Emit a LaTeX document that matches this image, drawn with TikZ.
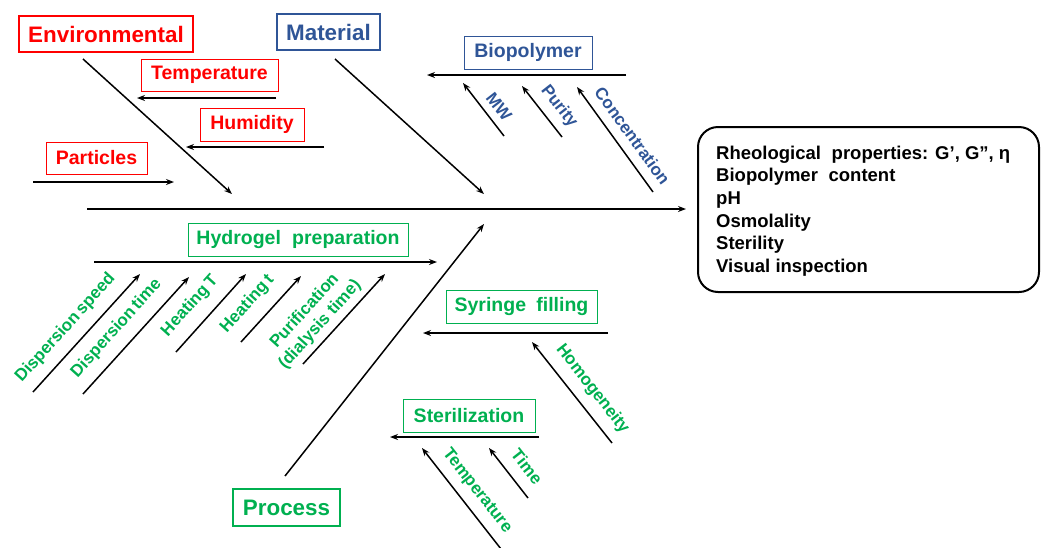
\documentclass[tikz,border=0pt]{standalone}
\usepackage{fontspec}
\setmainfont{Liberation Sans}
\usetikzlibrary{arrows.meta}
\definecolor{cred}{RGB}{255,0,0}
\definecolor{cblue}{RGB}{47,85,151}
\definecolor{cgreen}{RGB}{0,176,80}
\begin{document}
\begin{tikzpicture}[x=1pt,y=-1pt,
  arr/.style={line width=1.5pt, -{Stealth[length=8pt,width=6pt]}},
  mainbox/.style={draw, line width=2.2pt, font=\bfseries\fontsize{22.4}{25}\selectfont, inner sep=0pt},
  subbox/.style={draw, line width=0.9pt, font=\bfseries\fontsize{19.5}{22}\selectfont, inner sep=0pt, minimum height=33pt},
  lbl/.style={font=\bfseries\fontsize{18.5}{21}\selectfont, inner sep=0pt},
  rlbl/.style={font=\bfseries\fontsize{17}{20}\selectfont, inner sep=0pt},
]
\useasboundingbox (0,0) rectangle (1044,547);

% main category boxes
\node[mainbox, cred, minimum width=174pt, minimum height=36pt] (env) at (106,34) {Environmental};
\node[mainbox, cblue, minimum width=103pt, minimum height=36pt] (mat) at (328.5,32) {Material};
\node[mainbox, cgreen, minimum width=107pt, minimum height=37pt] (proc) at (286.5,507.5) {Process};

% sub boxes
\node[subbox, cred, minimum width=137pt, minimum height=32pt] (temp) at (209.5,75) {Temperature};
\node[subbox, cred, minimum width=104pt] (hum) at (252,124.5) {Humidity};
\node[subbox, cred, minimum width=101pt, minimum height=32pt] (part) at (96.5,158) {Particles};
\node[subbox, cblue, minimum width=128pt] (bio) at (528,52.5) {Biopolymer};
\node[subbox, cgreen, minimum width=220pt] (hyd) at (298,239.5) {Hydrogel\hspace{0.3em} preparation};
\node[subbox, cgreen, minimum width=151pt] (syr) at (521.5,306.5) {Syringe\hspace{0.25em} filling};
\node[subbox, cgreen, minimum width=132pt] (ster) at (469,415.5) {Sterilization};

% result box
\node[draw, line width=2pt, rounded corners=20pt, minimum width=341pt, minimum height=165pt] (res) at (868.5,209.5) {};
\node[lbl, align=left, anchor=west, font=\bfseries\fontsize{18.5}{22.6}\selectfont] (restext) at (716,211)
  {Rheological\hspace{0.3em} properties: G’, G”, η\\Biopolymer\hspace{0.3em} content\\pH\\Osmolality\\Sterility\\Visual inspection};

% coordinates
\coordinate (spA) at (87,209);   \coordinate (spB) at (686,209);
\coordinate (envA) at (83,59);   \coordinate (envB) at (232,194);
\coordinate (matA) at (335,59);  \coordinate (matB) at (484,194);
\coordinate (prA) at (285,476);  \coordinate (prB) at (484,224);
\coordinate (tA) at (276,98);    \coordinate (tB) at (137,98);
\coordinate (hA) at (324,147);   \coordinate (hB) at (186,147);
\coordinate (pA) at (33,182);    \coordinate (pB) at (174,182);
\coordinate (bA) at (626,75);    \coordinate (bB) at (427,75);
\coordinate (mwA) at (504,136);  \coordinate (mwB) at (463,83);
\coordinate (puA) at (562,137);  \coordinate (puB) at (522,86);
\coordinate (coA) at (653,192);  \coordinate (coB) at (577,87);
\coordinate (hyA) at (94,262);   \coordinate (hyB) at (437,262);
\coordinate (d1A) at (33,392);   \coordinate (d1B) at (140,274);
\coordinate (d2A) at (83,394);   \coordinate (d2B) at (189,277);
\coordinate (d3A) at (176,352);  \coordinate (d3B) at (246,274);
\coordinate (d4A) at (241,342);  \coordinate (d4B) at (301,276);
\coordinate (d5A) at (303,364);  \coordinate (d5B) at (385,274);
\coordinate (syA) at (608,333);  \coordinate (syB) at (423,333);
\coordinate (hoA) at (612,443);  \coordinate (hoB) at (532,342);
\coordinate (stA) at (539,437);  \coordinate (stB) at (390,437);
\coordinate (tiA) at (528,498);  \coordinate (tiB) at (489,448);
\coordinate (teA) at (501,549);  \coordinate (teB) at (422,448);

% arrows
\draw[arr] (spA) -- (spB);
\draw[arr] (envA) -- (envB);
\draw[arr] (matA) -- (matB);
\draw[arr] (prA) -- (prB);
\draw[arr] (tA) -- (tB);
\draw[arr] (hA) -- (hB);
\draw[arr] (pA) -- (pB);
\draw[arr] (bA) -- (bB);
\draw[arr] (mwA) -- (mwB);
\draw[arr] (puA) -- (puB);
\draw[arr] (coA) -- (coB);
\draw[arr] (hyA) -- (hyB);
\draw[arr] (d1A) -- (d1B);
\draw[arr] (d2A) -- (d2B);
\draw[arr] (d3A) -- (d3B);
\draw[arr] (d4A) -- (d4B);
\draw[arr] (d5A) -- (d5B);
\draw[arr] (syA) -- (syB);
\draw[arr] (hoA) -- (hoB);
\draw[arr] (stA) -- (stB);
\draw[arr] (tiA) -- (tiB);
\draw[arr] (teA) -- (teB);

% rotated labels
\node[rlbl, cblue, rotate=-52] (lmw) at (499,106.5) {MW};
\node[rlbl, cblue, rotate=-52] (lpu) at (559,106.5) {Purity};
\node[rlbl, cblue, rotate=-54] (lco) at (632.5,136) {Concentration};
\node[rlbl, cgreen, rotate=48] (ld1) at (65.5,328) {Dispersion\hspace{-0.1em} speed};
\node[rlbl, cgreen, rotate=48] (ld2) at (116.5,328.5) {Dispersion\hspace{-0.1em} time};
\node[rlbl, cgreen, rotate=48] (ld3) at (190,306) {Heating\hspace{-0.1em} T};
\node[rlbl, cgreen, rotate=48] (ld4) at (247.5,304) {Heating\hspace{-0.1em} t};
\node[rlbl, cgreen, rotate=48, align=center, font=\bfseries\fontsize{17}{20.5}\selectfont] (ld5) at (312.5,318) {Purification\\(dialysis time)};
\node[rlbl, cgreen, rotate=-52] (lho) at (592.5,389) {Homogeneity};
\node[rlbl, cgreen, rotate=-52] (lti) at (527,466.5) {Time};
\node[rlbl, cgreen, rotate=-52] (lte) at (477,491) {Temperature};
\end{tikzpicture}
\end{document}
